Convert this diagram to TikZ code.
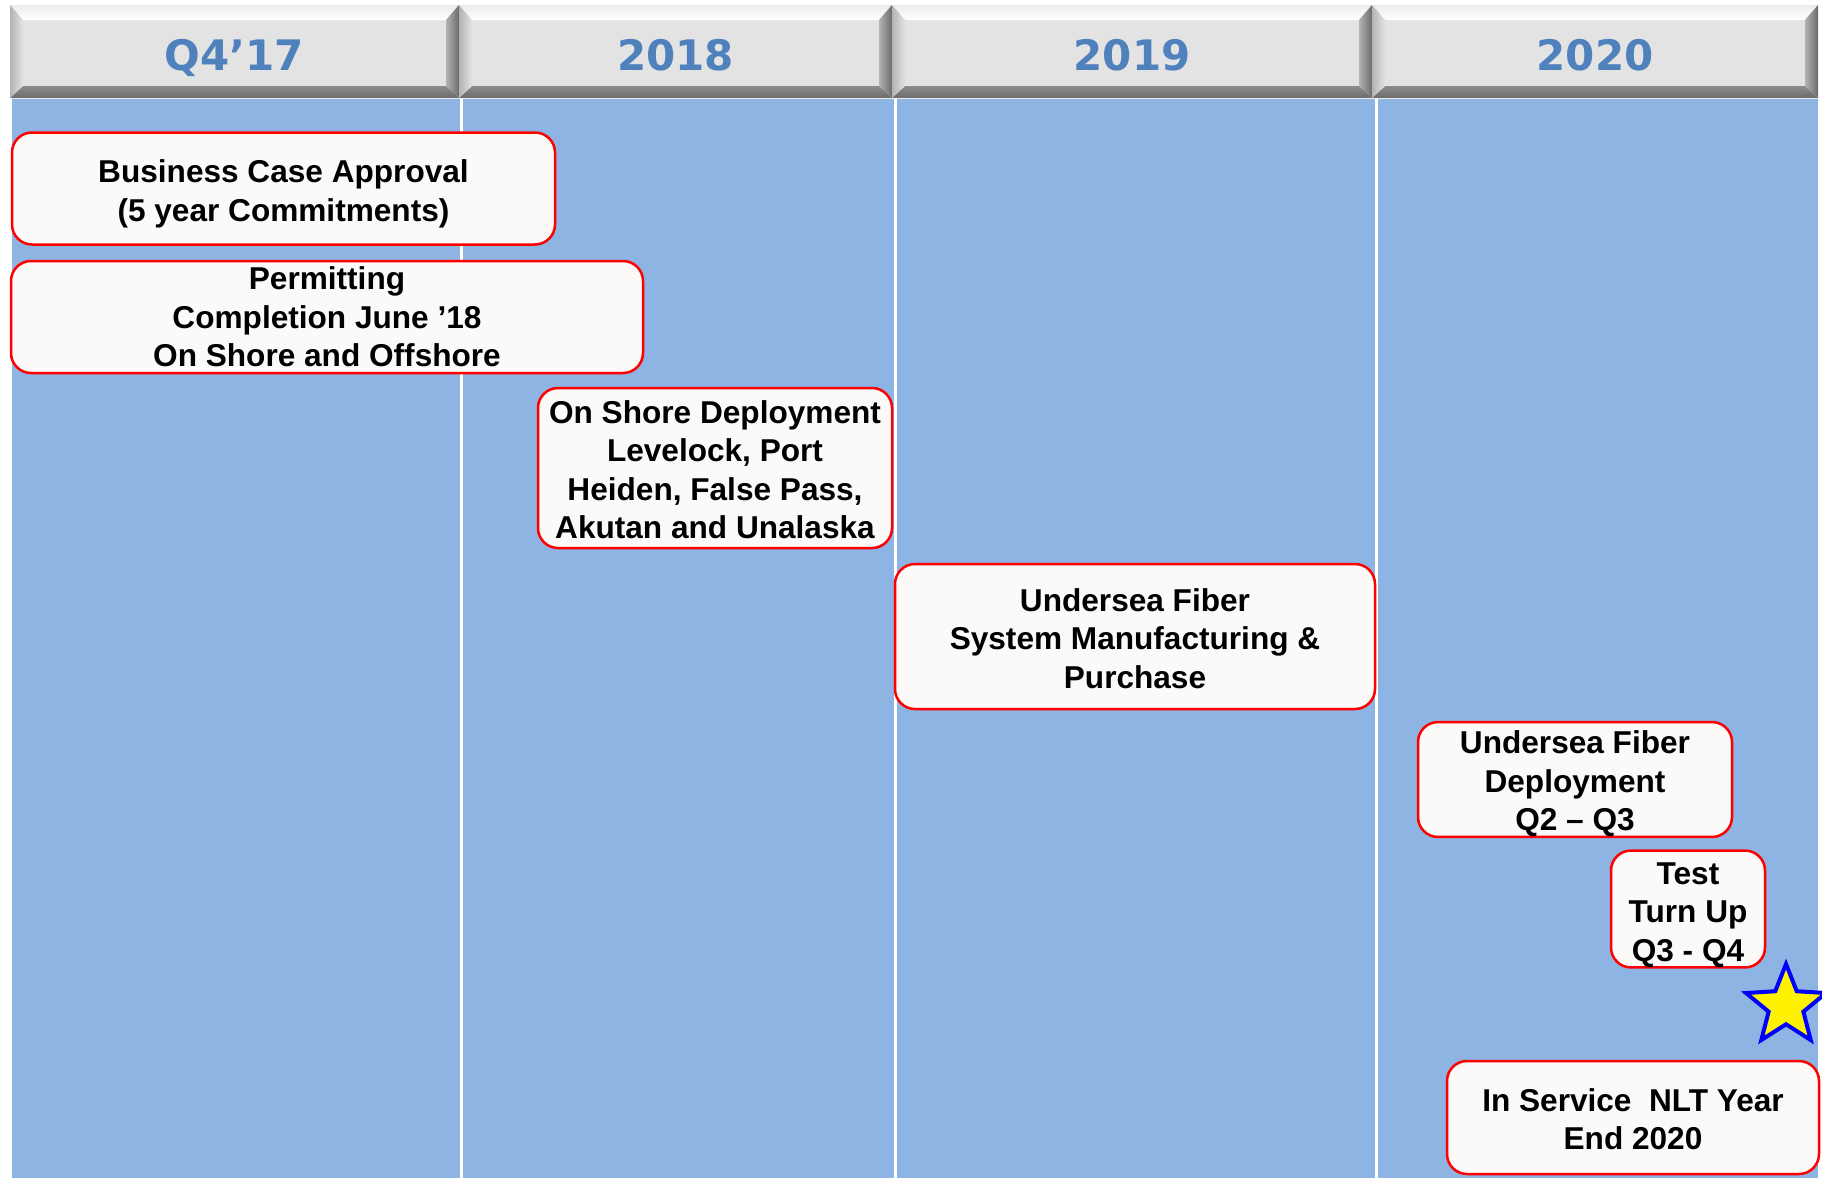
\documentclass[tikz,border=0pt]{standalone}
\usepackage{fontspec}
\setmainfont{Liberation Sans}
\newfontfamily\hdrfont{DejaVu Sans}
\usetikzlibrary{shapes.geometric}
\definecolor{bluebg}{RGB}{142,180,227}
\definecolor{hdrtxt}{RGB}{79,129,189}
\definecolor{hface}{RGB}{227,227,227}
\definecolor{boxfill}{RGB}{251,250,248}
\tikzset{
  box/.style={draw=red, line width=2.5pt, fill=boxfill, rounded corners=20pt,
    align=center, font=\fontsize{31.6}{38.5}\selectfont\bfseries, inner sep=0pt},
  hdr/.style={font=\hdrfont\fontsize{42}{50}\selectfont\bfseries, text=hdrtxt,
    inner sep=0pt, anchor=base},
  divider/.style={white, line width=3pt},
}
\newcommand\lift[1]{\rule{0pt}{\dimexpr 0.75em+#1pt\relax}}
\newcommand\headercell[4]{%
  \fill[hface] (#1,5) rectangle (#2,98);
  \shade[top color=hface!70!white, bottom color=white] (#1,5) -- (#2,5) -- (#2-13,20) -- (#1+13,20) -- cycle;
  \shade[top color=black!45, bottom color=black!58] (#1,98) -- (#2,98) -- (#2-13,86) -- (#1+13,86) -- cycle;
  \shade[left color=black!30, right color=hface] (#1,5) -- (#1+13,20) -- (#1+13,86) -- (#1,98) -- cycle;
  \shade[left color=black!30, right color=black!58] (#2,5) -- (#2-13,20) -- (#2-13,86) -- (#2,98) -- cycle;
  \node[hdr] (#4) at ({(#1+#2)/2},70) {#3};
}
\begin{document}
\begin{tikzpicture}[x=1pt,y=-1pt]
\useasboundingbox (0,0) rectangle (1822,1178);
\fill[white] (0,0) rectangle (1822,1178);
% background
\fill[bluebg] (12,99) rectangle (1818,1178);
\draw[divider] (461,99) -- (461,1178);
\draw[divider] (895,99) -- (895,1178);
\draw[divider] (1376,99) -- (1376,1178);
% headers
\headercell{10}{459}{Q4’17}{h1}
\headercell{459}{892}{2018}{h2}
\headercell{892}{1372}{2019}{h3}
\headercell{1372}{1818}{2020}{h4}
% boxes
\node[box, minimum width=543pt, minimum height=112pt] (b1) at (283.5,188.5)
  {\lift{10}Business Case Approval\\(5 year Commitments)};
\node[box, minimum width=632pt, minimum height=112pt] (b2) at (327,317)
  {Permitting\\Completion June ’18\\On Shore and Offshore};
\node[box, minimum width=354pt, minimum height=160pt] (b3) at (715,468)
  {\lift{3}On Shore Deployment\\Levelock, Port\\Heiden, False Pass,\\Akutan and Unalaska};
\node[box, minimum width=480pt, minimum height=145pt] (b4) at (1135,636.5)
  {\lift{3}Undersea Fiber\\System Manufacturing \&\\Purchase};
\node[box, minimum width=314pt, minimum height=113pt] (b5) at (1575,779.5)
  {\lift{8}Undersea Fiber\\Deployment\\Q2 – Q3};
\node[box, minimum width=154pt, minimum height=112pt] (b6) at (1688,909)
  {\lift{10}Test\\Turn Up\\Q3 - Q4};
\node[box, minimum width=372pt, minimum height=113pt] (b7) at (1633,1117.5)
  {\lift{3}In Service\ \ NLT Year\\End 2020};
% star
\node[star, star points=5, star point ratio=2.3, minimum size=84pt, inner sep=0pt,
  fill=yellow, draw=blue, line width=4pt] (star) at (1786,1006) {};
\end{tikzpicture}
\end{document}
